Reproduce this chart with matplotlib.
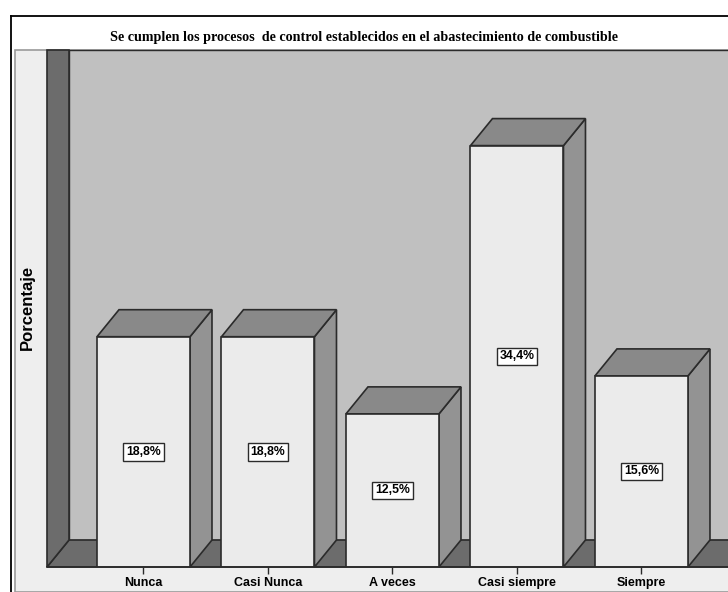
import matplotlib
matplotlib.use("Agg")
import matplotlib.pyplot as plt
from matplotlib.patches import Polygon, Rectangle
from matplotlib.lines import Line2D
from matplotlib.transforms import IdentityTransform

# porcentajes por categoria
categorias = ["Nunca", "Casi Nunca", "A veces", "Casi siempre", "Siempre"]
porcentajes = [18.8, 18.8, 12.5, 34.4, 15.6]
titulo = "Se cumplen los procesos  de control establecidos en el abastecimiento de combustible"
etiqueta_y = "Porcentaje"

W, H = 728, 592
DX, DY = 22, 27          # profundidad 3D en pixeles
ANCHO = 0.747
X_IZQ, X_DER = -0.775, 4.695
Y_MAX = 40

C_FRENTE = "#ebebeb"
C_TAPA = "#898989"
C_LADO = "#939393"
C_FONDO = "#c0c0c0"
C_PARED = "#6c6c6c"
C_PANEL = "#eeeeee"
C_BORDE = "#2b2b2b"

fig = plt.figure(figsize=(W / 100, H / 100), dpi=100)
fig.patch.set_facecolor("white")

ax = fig.add_axes([47 / W, 25 / H, 681 / W, 490 / H])
ax.set_xlim(X_IZQ, X_DER)
ax.set_ylim(0, Y_MAX)
ax.patch.set_visible(False)
for s in ("left", "right", "top"):
    ax.spines[s].set_visible(False)
ax.spines["bottom"].set_color(C_BORDE)
ax.spines["bottom"].set_linewidth(1.2)
ax.spines["bottom"].set_zorder(6)


def pt(x, y, d=0):
    X, Y = ax.transData.transform((x, y))
    return (X + d * DX, Y + d * DY)


def poly(verts, color, z, lw=1.2):
    p = Polygon(verts, closed=True, facecolor=color, edgecolor=C_BORDE,
                linewidth=lw, transform=IdentityTransform(), clip_on=False,
                zorder=z, joinstyle="miter")
    ax.add_patch(p)


y_tope = pt(X_IZQ, Y_MAX, 1)[1]   # borde superior del panel (display)

# panel gris claro de fondo y marco exterior
fig.add_artist(Rectangle((15 / W, 0), 1, y_tope / H, transform=fig.transFigure,
                         facecolor=C_PANEL, edgecolor="#9a9a9a", linewidth=1.2,
                         zorder=-5))
fig.add_artist(Line2D([10.5 / W, 10.5 / W], [0, 1 - 15.5 / H], color="black",
                      linewidth=1.3, transform=fig.transFigure, zorder=-4))
fig.add_artist(Line2D([10.5 / W, 1], [1 - 15.5 / H, 1 - 15.5 / H], color="black",
                      linewidth=1.3, transform=fig.transFigure, zorder=-4))

# pared del fondo, suelo y pared izquierda
x_fin = X_DER + 1
poly([pt(X_IZQ, 0, 1), pt(x_fin, 0, 1), (pt(x_fin, 0, 1)[0], y_tope),
      (pt(X_IZQ, 0, 1)[0], y_tope)], C_FONDO, 1, lw=1.0)
poly([pt(X_IZQ, 0), pt(x_fin, 0), pt(x_fin, 0, 1), pt(X_IZQ, 0, 1)], C_PARED, 2)
x0f = pt(X_IZQ, 0)[0]
poly([pt(X_IZQ, 0), (x0f, y_tope), (x0f + DX, y_tope), pt(X_IZQ, 0, 1)], C_PARED, 2)

# barras
pos = list(range(len(categorias)))
for i, v in zip(pos, porcentajes):
    x0, x1 = i - ANCHO / 2, i + ANCHO / 2
    poly([pt(x1, 0), pt(x1, 0, 1), pt(x1, v, 1), pt(x1, v)], C_LADO, 3)
    poly([pt(x0, v), pt(x1, v), pt(x1, v, 1), pt(x0, v, 1)], C_TAPA, 3)
ax.bar(pos, porcentajes, width=ANCHO, color=C_FRENTE, edgecolor=C_BORDE,
       linewidth=1.2, zorder=4)

for i, v in zip(pos, porcentajes):
    ax.text(i, v / 2, f"{v:.1f}%".replace(".", ","), ha="center", va="center",
            fontsize=8.8, fontweight="bold", family="Liberation Sans", zorder=7,
            bbox=dict(boxstyle="square,pad=0.22", facecolor="white",
                      edgecolor=C_BORDE, linewidth=1.0))

ax.set_xticks(pos)
ax.set_xticklabels(categorias, fontsize=9, fontweight="bold", family="Liberation Sans")
ax.tick_params(axis="x", length=5, width=1.0, color=C_BORDE, pad=2)
ax.set_yticks([])
ax.set_ylabel(etiqueta_y, fontsize=12, fontweight="bold", family="Liberation Sans",
              va="center")
ax.yaxis.set_label_coords((27 - 47) / 681, (H - 307 - 25) / 490)

fig.text(0.5, 1 - 37 / H, titulo, ha="center", va="center", fontsize=10.2,
         fontweight="bold", family="Liberation Serif")

fig.savefig("out.png", dpi=100)
